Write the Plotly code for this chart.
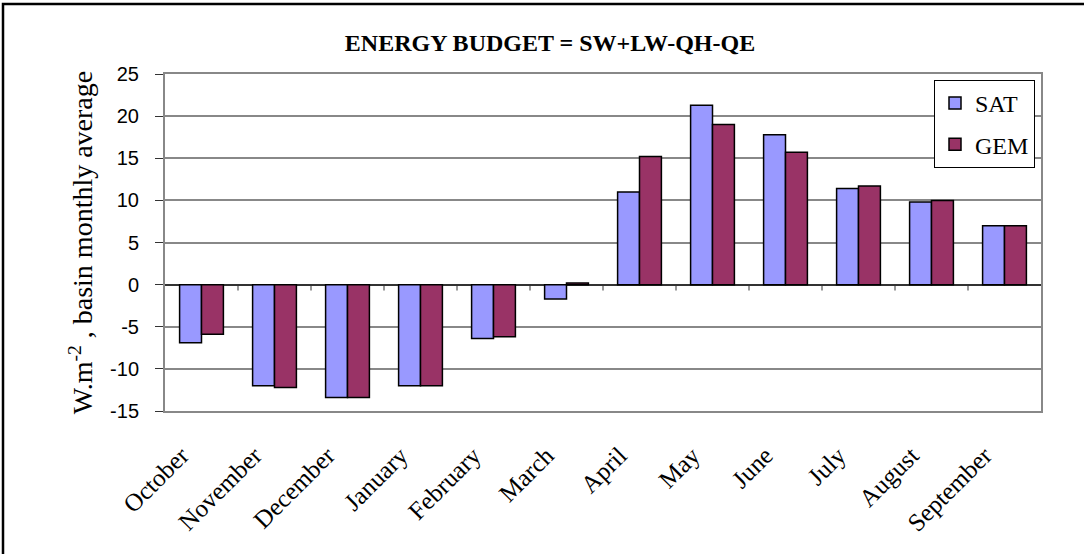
import plotly.graph_objects as go

months = ["October", "November", "December", "January", "February", "March",
          "April", "May", "June", "July", "August", "September"]
sat = [-6.9, -12.0, -13.4, -12.0, -6.4, -1.7, 11.0, 21.3, 17.8, 11.4, 9.8, 7.0]
gem = [-5.9, -12.2, -13.4, -12.0, -6.2, 0.2, 15.2, 19.0, 15.7, 11.7, 10.0, 7.0]
y_ticks = [-15, -10, -5, 0, 5, 10, 15, 20, 25]

fig = go.Figure()
fig.add_trace(go.Bar(x=months, y=sat, name="SAT", legendgroup="a",
                     marker=dict(color="#9999FF", line=dict(color="black", width=1.5))))
fig.add_trace(go.Bar(x=months, y=gem, name="GEM", legendgroup="b",
                     marker=dict(color="#993366", line=dict(color="black", width=1.5))))

# category separator tick marks on the zero line
for i in range(len(months) - 1):
    fig.add_shape(type="line", xref="x", yref="y", x0=i + 0.5, x1=i + 0.5,
                  y0=0, y1=-0.7, line=dict(color="#333333", width=1))

PW, PH = 876, 337
# outer frame (left and top visible)
fig.add_shape(type="rect", xref="paper", yref="paper",
              x0=-162 / PW, x1=1 + 80 / PW, y0=-180 / PH, y1=1 + 70 / PH,
              line=dict(color="black", width=2.5), fillcolor="rgba(0,0,0,0)")

fig.update_layout(
    width=1084, height=554,
    margin=dict(l=165, r=43, t=74, b=143, autoexpand=False),
    paper_bgcolor="white", plot_bgcolor="white",
    barmode="group", bargap=0.4, bargroupgap=0,
    title=dict(text="<b>ENERGY BUDGET = SW+LW-QH-QE</b>", x=550 / 1084, xanchor="center",
               y=1 - 43 / 554, yanchor="middle",
               font=dict(family="Liberation Serif", size=24, color="black")),
    font=dict(family="Liberation Serif", color="black"),
    legend=dict(x=1 - 6 / PW, xanchor="right", y=1 - 6 / PH, yanchor="top",
                bgcolor="white", bordercolor="black", borderwidth=1,
                font=dict(family="Liberation Serif", size=24, color="black"),
                tracegroupgap=7, itemwidth=30),
    showlegend=True,
)
fig.update_xaxes(
    type="category", tickangle=-45, automargin=False,
    tickfont=dict(family="Liberation Serif", size=25, color="black"),
    ticklabelstandoff=18, ticklabelshift=-20,
    showline=True, linecolor="#888888", linewidth=2, mirror=True,
    ticks="", showgrid=False,
)
fig.update_yaxes(
    range=[-15, 25], tickvals=y_ticks, ticktext=[str(v) for v in y_ticks],
    automargin=False,
    tickfont=dict(family="Liberation Sans", size=20, color="black"),
    ticks="outside", ticklen=8, tickcolor="#333333", ticklabelstandoff=12,
    showline=True, linecolor="#888888", linewidth=2, mirror=True,
    showgrid=True, gridcolor="#888888", gridwidth=1.5,
    zeroline=True, zerolinecolor="#333333", zerolinewidth=1.5,
    title=dict(text="W.m<sup>-2</sup> , basin monthly average",
               font=dict(family="Liberation Serif", size=28, color="black"), standoff=9),
)

fig.write_html("out.html", config={"displayModeBar": False},
               post_script="document.body.style.margin='0px';")
